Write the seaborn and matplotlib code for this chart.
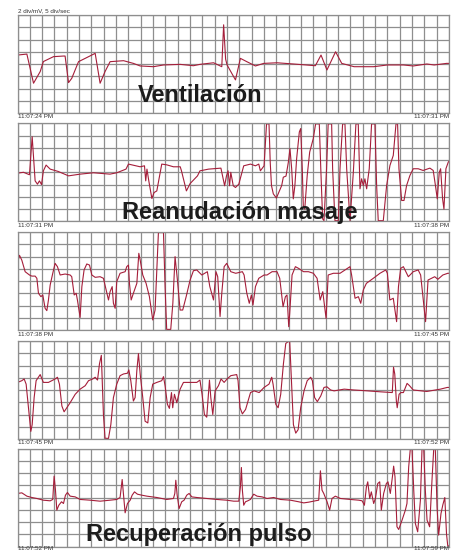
import matplotlib
matplotlib.use("Agg")
import matplotlib.pyplot as plt
import seaborn as sns
import pandas as pd

# ECG strips: (time in grid divisions, amplitude in divisions)
# calibration: 5 div/sec, 2 div/mV ; each strip is 35 x 8 divisions
strip1 = [(0, 0.73), (0.76, 0.81), (1.3, -1.57), (1.84, -0.62), (2.1, 0.2), (2.92, 0.6),
          (3.73, 0.65), (3.86, 0.65), (4.14, -1.52), (4.4, -1.17), (4.95, 0.19), (5.49, 0.46),
          (6.3, 0.87), (6.7, -1.57), (7.1, -0.62), (7.51, 0.19), (8.6, 0.27), (9.4, 0.05),
          (9.95, -0.16), (11.03, -0.22), (11.84, -0.08), (13.19, -0.03), (14.27, -0.14),
          (14.8, -0.03), (15.9, 0.1), (16.57, -0.22), (16.72, 3.2), (16.88, 0.4), (17.0, -0.08),
          (17.68, -1.3), (18.08, 0.46), (18.6, 0.19), (19.3, -0.16), (19.97, 0.05), (21.05, 0.1),
          (22.4, 0.0), (24.16, -0.14), (24.62, 0.73), (25.1, -0.49), (25.8, 1.0), (26.3, 0.05),
          (27.3, -0.22), (28.9, -0.22), (30.0, -0.08), (31.3, -0.08), (32.1, -0.16), (33.2, 0.0),
          (33.8, -0.08), (34.8, 0.05), (35, 0.05)]

strip2 = [(0, -0.07), (0.49, 0), (0.97, -0.2), (1.19, 2.9), (1.3, 1.2), (1.43, -0.7), (1.62, -0.97),
          (1.78, -0.7), (1.95, -1.0), (2.1, 0.12), (2.32, 0.59), (2.65, 0.26), (3.3, 0.07),
          (4.14, -0.29), (5.08, -0.15), (6.16, -0.04), (7.5, -0.15), (8.05, -0.04), (8.8, 0.26),
          (9.0, 0.67), (9.95, 0.45), (10.3, 0.53), (10.4, -0.7), (10.5, 0.26), (10.65, -0.7),
          (10.9, -2.14), (11.08, -1.65), (11.3, -1.52), (11.5, -0.42), (11.7, 0.67), (12.1, 0.61),
          (12.65, 0.45), (13.2, 0.45), (13.3, 0.12), (13.7, -1.52), (14.0, -0.92), (14.6, -0.29),
          (14.8, 0.12), (15.5, 0.26), (16.5, 0.34), (16.8, -1.1), (16.95, -0.3), (17.08, 0.12),
          (17.2, -1.1), (17.3, 0), (17.5, -1.1), (17.68, -1.24), (17.95, -0.97), (18.35, 0.53),
          (18.9, 0.67), (19.3, 0.53), (19.57, 0.67), (19.7, 0.12), (20.0, 0.53), (20.2, 3.95),
          (20.4, 3.95), (20.5, 0.8), (20.6, -1.08), (20.75, -1.76), (21.0, -2.1), (21.43, -1.08),
          (21.56, -0.4), (21.78, -0.31), (21.97, 0.83), (22.1, 1.93), (22.24, 0.29), (22.37, -2.17),
          (22.5, -1.08), (22.64, 1.1), (22.86, 3.29), (22.97, 3.57), (23.1, 0.29), (23.18, -2.72),
          (23.3, -3.0), (23.5, -0.26), (23.7, 1.65), (23.99, 2.75), (24.18, 3.95), (24.48, 3.95),
          (24.6, 0.29), (24.75, -3.8), (24.86, -3.95), (25.07, 0.29), (25.2, 3.95), (25.48, 3.95),
          (25.56, 0.29), (25.75, -3.95), (26.02, -3.95), (26.16, 0.29), (26.37, 3.95), (26.56, 3.95),
          (26.7, 0.29), (26.97, -3.95), (27.24, 0), (27.45, 3.95), (27.64, 3.95), (27.78, -1.35),
          (27.91, -0.53), (28.05, -1.08), (28.18, -0.53), (28.32, -1.35), (28.53, 0.29), (28.72, 3.95),
          (28.99, 3.95), (29.13, -1.08), (29.26, -3.95), (29.67, -3.95), (29.94, -1.08), (30.21, 0.56),
          (30.48, 1.38), (30.7, 3.95), (30.83, 3.95), (30.94, 0.29), (31.16, -2.3), (31.35, -2.3),
          (31.56, -1.08), (31.83, -0.26), (32.1, 0.29), (32.5, 0.29), (32.9, 0.15), (33.45, 0.34),
          (33.72, 0.15), (33.9, -1.08), (34.05, -2.17), (34.21, 0), (34.32, 0.29), (34.48, -2.17),
          (34.59, -3.0), (34.75, 0.29), (34.94, 0.83), (35, 0.9)]

strip3 = [(0, 1.44), (0.16, 2.1), (0.35, 1.7), (0.62, 0.76), (0.97, 0.49), (1.16, 0.4), (1.43, 0.4),
          (1.57, 0.22), (1.7, -1.0), (1.9, -1.28), (2.05, -1.14), (2.24, -2.23), (2.38, -2.42),
          (2.51, -1.55), (2.65, -0.33), (2.86, 0.63), (3.05, 1.44), (3.24, 1.17), (3.46, 0.49),
          (3.86, 0.57), (4.27, 0.49), (4.4, 0.35), (4.6, -1.14), (4.76, -1.0), (4.86, -1.55),
          (5.08, -2.97), (5.22, -0.46), (5.4, 0.9), (5.62, 1.39), (5.84, 1.3), (6.03, 0.49),
          (6.3, 0.3), (6.7, 0.35), (6.97, 0.22), (7.19, -0.73), (7.38, -1.55), (7.51, -0.87),
          (7.68, -0.46), (7.78, -1.82), (7.92, -2.23), (8.05, -0.05), (8.32, 0.63), (8.73, 0.76),
          (8.86, 1.17), (9.0, 1.3), (9.08, -0.19), (9.22, -1.55), (9.4, -1.0), (9.68, -0.19),
          (9.84, 2.26), (9.95, 1.71), (10.16, 0.49), (10.43, -0.19), (10.7, -1.28), (10.97, -3.18),
          (11.16, -2.37), (11.3, 0.9), (11.43, 3.95), (11.84, 3.95), (11.97, -0.46), (12.1, -3.95),
          (12.43, -3.95), (12.6, -1.82), (12.78, 1.99), (12.97, 0.08), (13.19, -2.37), (13.4, -2.37),
          (13.68, -1.28), (14.0, 0.08), (14.27, 0.84), (14.54, 0.9), (14.95, 0.49), (15.4, 0.76),
          (15.6, -0.46), (15.9, -1.55), (16.1, 0.76), (16.24, 0.35), (16.43, -2.9), (16.57, -1.0),
          (16.76, 1.17), (16.97, 1.44), (17.3, 0.76), (17.7, 0.63), (18.24, 0.76), (18.38, 0.49),
          (18.6, -1.0), (18.8, -1.82), (18.97, -1.14), (19.1, -1.96), (19.3, -0.46), (19.57, 0.22),
          (20.0, 0.49), (20.24, 0.49), (20.65, 0.76), (21.05, 0.76), (21.27, 0.22), (21.54, -2.1),
          (21.73, -1.28), (21.86, -1.14), (22.0, -3.73), (22.08, -2.64), (22.27, 0.49), (22.54, 1.17),
          (22.8, 1.03), (23.2, 0.76), (23.6, 0.76), (24.0, 0.63), (24.3, 0.22), (24.55, -1.55),
          (24.76, -0.87), (25.03, -3.05), (25.2, 0.49), (25.62, 0.63), (26.16, 0.63), (26.57, 0.9),
          (26.97, 1.17), (27.1, 0.49), (27.38, -1.41), (27.65, -1.28), (27.84, -1.82), (28.05, -0.73),
          (28.3, -0.19), (28.86, 0.22), (29.4, 0.63), (29.87, 0.9), (30.0, 0.63), (30.2, -1.55),
          (30.48, -1.41), (30.75, -3.32), (30.9, -0.46), (31.08, 1.03), (31.3, 1.17), (31.7, 0.35),
          (32.1, 0.76), (32.5, 0.9), (32.7, 0.49), (32.9, -1.41), (33.1, -3.32), (33.3, 0.08),
          (33.57, 0.22), (33.84, 0.35), (34.1, 0.14), (34.5, 0.49), (34.9, 0.63), (35, 0.63)]

strip4 = [(0, 0.62), (0.35, 0.76), (0.54, 0.9), (0.7, 0.48), (0.89, -1.45), (1.08, -3.38),
          (1.19, -2.83), (1.35, -0.62), (1.51, 0.76), (1.84, 1.26), (2.1, 0.62), (2.51, 0.62),
          (3.05, 0.9), (3.24, 1.04), (3.4, 0.48), (3.6, -1.31), (3.78, -1.78), (4.0, -1.45),
          (4.27, -1.04), (4.68, -0.35), (5.08, 0.07), (5.49, 0.35), (5.76, 0.76), (6.1, 0.9),
          (6.3, 1.04), (6.49, 0.81), (6.65, 2.14), (6.8, 2.83), (6.86, 1.04), (6.97, -2.0),
          (7.1, -3.94), (7.38, -3.95), (7.57, -2.83), (7.78, -0.62), (8.05, 0.48), (8.32, 1.17),
          (8.6, 1.31), (8.92, 1.37), (9.03, 1.64), (9.19, 0.76), (9.4, -0.9), (9.54, -0.62),
          (9.68, 1.59), (9.81, 2.97), (9.95, 1.31), (10.16, -0.62), (10.35, -2.55), (10.57, -2.69),
          (10.76, -0.62), (10.97, 0.48), (11.3, 0.62), (11.7, 0.76), (11.84, 1.09), (11.97, 0.35),
          (12.16, -1.17), (12.32, -1.5), (12.49, -0.21), (12.59, -1.45), (12.73, -0.35), (12.92, -1.04),
          (13.19, 0.07), (13.46, 0.62), (14.0, 0.62), (14.54, 0.62), (14.8, 0.81), (14.97, -0.35),
          (15.16, -2.0), (15.35, -2.22), (15.57, 0.81), (15.68, -0.62), (15.84, -2.0), (16.03, -0.07),
          (16.3, 0.35), (16.51, 0.9), (16.76, 0.62), (17.0, 0.9), (17.3, 1.17), (17.78, 1.26),
          (17.89, 0.76), (18.05, -1.45), (18.24, -1.95), (18.5, -1.59), (18.9, -0.21), (19.19, -0.07),
          (19.6, -0.21), (20.0, 0.21), (20.4, 0.48), (20.62, 1.04), (20.73, 0.48), (20.95, -1.17),
          (21.14, -1.45), (21.35, -0.35), (21.57, 2.14), (21.76, 3.8), (21.95, 3.95), (22.08, 3.95),
          (22.22, 0.76), (22.38, -2.83), (22.57, -3.52), (22.76, -3.24), (22.97, -1.45), (23.24, -0.07),
          (23.5, 0.76), (23.78, 1.04), (23.92, 0.76), (24.1, -0.62), (24.32, -0.95), (24.6, -0.48),
          (24.86, 0.21), (25.1, 0.26), (25.4, 0), (25.68, -0.07), (26.5, 0.07), (27.3, 0),
          (28.38, -0.07), (29.46, -0.15), (30.4, -0.21), (30.5, 1.86), (30.6, 1.31), (30.73, -0.9),
          (30.8, -1.45), (30.95, -0.35), (31.1, -0.21), (31.3, -0.21), (31.6, 0.54), (31.8, 0.35),
          (32.1, 0), (32.7, -0.07), (33.2, -0.12), (33.9, 0), (34.3, 0.07), (34.86, 0.21), (35, 0.21)]

strip5 = [(0, 0.33), (0.35, 0.38), (0.76, 0.11), (1.16, 0), (1.57, -0.08), (2.1, -0.22),
          (2.65, -0.27), (2.86, -0.16), (2.97, 1.74), (3.08, 0.6), (3.19, -1.03), (3.35, -0.63),
          (3.57, -0.35), (3.73, -0.49), (3.89, 0.19), (4.05, 0.41), (4.27, 0.11), (4.68, 0.05),
          (5.08, -0.16), (5.9, -0.22), (6.7, -0.3), (7.51, -0.22), (8.05, -0.16), (8.32, 0),
          (8.49, 1.47), (8.59, 0.33), (8.73, -1.25), (8.92, -0.49), (9.14, -0.22), (9.3, 0.19),
          (9.49, 0.46), (9.73, 0.27), (10.08, 0.19), (10.49, 0.11), (11.3, 0), (12.1, -0.16),
          (12.65, -0.08), (12.76, 0.33), (12.84, 1.41), (12.95, 0.19), (13.11, -0.9), (13.32, -0.35),
          (13.51, -0.22), (13.73, 0.19), (13.92, 0.33), (14.14, 0.05), (14.54, 0), (15.35, -0.08),
          (16.16, -0.16), (16.97, -0.22), (17.54, -0.3), (17.95, -0.3), (18.08, 0.87), (18.16, 2.45),
          (18.24, 0.6), (18.35, -0.63), (18.49, -0.35), (18.68, -0.27), (18.89, -0.16), (19.16, 0.27),
          (19.43, 0.11), (19.84, 0.05), (20.24, -0.08), (20.78, 0), (21.32, -0.16), (22.14, -0.22),
          (22.81, -0.35), (23.22, -0.44), (23.62, -0.38), (24.16, -0.27), (24.43, -0.22), (24.57, 2.18),
          (24.7, 0.6), (24.84, 0.33), (25.11, -0.35), (25.32, -1.03), (25.51, -0.08), (25.78, 0.11),
          (26.19, -0.08), (27.0, -0.16), (27.68, -0.22), (27.95, -0.27), (28.14, -0.63), (28.3, 0.87),
          (28.41, 1.28), (28.57, -0.08), (28.7, 0.46), (28.89, -0.49), (29.03, -0.08), (29.22, 1.14),
          (29.38, 1.28), (29.51, -1.03), (29.7, 0.33), (29.92, 1.14), (30.05, 1.28), (30.24, 0.33),
          (30.41, 1.69), (30.51, 2.56), (30.62, 1.69), (30.78, -2.39), (30.92, -2.61), (31.19, -1.85),
          (31.46, -1.03), (31.59, -0.49), (31.73, 2.5), (31.86, 3.95), (32.0, 3.95), (32.14, 0.6),
          (32.27, -2.12), (32.46, -2.8), (32.68, -0.22), (32.81, 3.95), (32.95, 3.95), (33.08, 0.6),
          (33.22, -1.85), (33.43, -2.39), (33.62, 1.41), (33.76, 3.95), (33.89, 3.95), (34.03, -0.76),
          (34.16, -3.07), (34.35, -1.31), (34.5, -0.6), (34.66, 0.0), (34.8, -3.0), (34.9, -3.95),
          (35, -3.95)]

strips = [strip1, strip2, strip3, strip4, strip5]
start_times = ["11:07:24 PM", "11:07:31 PM", "11:07:38 PM", "11:07:45 PM", "11:07:52 PM"]
end_times = ["11:07:31 PM", "11:07:38 PM", "11:07:45 PM", "11:07:52 PM", "11:07:59 PM"]
phase_labels = ["Ventilación", "Reanudación masaje", "Recuperación pulso"]

sns.set_style("white")
plt.rcParams['font.family'] = ['Liberation Sans', 'DejaVu Sans']

W, H = 454, 551
fig = plt.figure(figsize=(W / 100, H / 100), dpi=100)

left, right = 17.5, 449
tops = [15, 123.3, 232, 341, 448.5]
panel_h = 98
grid_col = '#8e8e8e'
trace_col = '#a51e3a'

for strip, top, t0, t1 in zip(strips, tops, start_times, end_times):
    ax = fig.add_axes([left / W, 1 - (top + panel_h) / H, (right - left) / W, panel_h / H])
    df = pd.DataFrame(strip, columns=['div_t', 'div_v'])
    sns.lineplot(data=df, x='div_t', y='div_v', ax=ax, color=trace_col,
                 linewidth=0.8, estimator=None, sort=False)
    ax.set_xlim(0, 35)
    ax.set_ylim(-4, 4)
    ax.set_xticks(range(0, 36))
    ax.set_yticks(range(-4, 5))
    ax.grid(True, color=grid_col, linewidth=0.9)
    ax.set_axisbelow(True)
    ax.tick_params(length=0, labelbottom=False, labelleft=False)
    ax.set_xlabel('')
    ax.set_ylabel('')
    for s in ax.spines.values():
        s.set_color(grid_col)
        s.set_linewidth(0.9)
    yb = min(top + panel_h + 4, H - 3)
    fig.text(left / W, 1 - yb / H, t0, fontsize=4.5, color='#333333', ha='left', va='center')
    fig.text(right / W, 1 - yb / H, t1, fontsize=4.5, color='#333333', ha='right', va='center')

fig.text(left / W, 1 - 11 / H, "2 div/mV, 5 div/sec", fontsize=4.5, color='#333333',
         ha='left', va='center')

# phase annotations (left x, baseline y in pixels)
for txt, (px, py) in zip(phase_labels, [(138, 102), (122, 218.5), (86, 541.5)]):
    fig.text(px / W, 1 - py / H, txt, fontsize=17, fontweight='bold', color='#1c1c1c',
             ha='left', va='baseline', zorder=10)

fig.savefig('out.png', dpi=100)
